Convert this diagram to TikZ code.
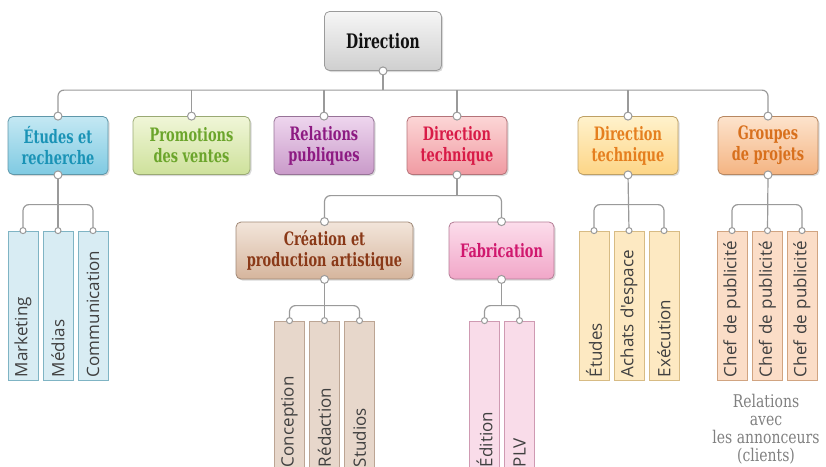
\documentclass[tikz,border=0pt]{standalone}
\usepackage{fontspec}
\usepackage{tikz}
\usetikzlibrary{positioning, shadows}

\newfontfamily\headfont[FakeStretch=0.7]{DejaVu Serif}
\newfontfamily\notefont[FakeStretch=0.8]{DejaVu Serif}
\newfontfamily\leaffont{Open Sans}
\hyphenpenalty=10000

\definecolor{linkgray}{HTML}{9A9A9A}
\definecolor{dirT}{HTML}{F6F6F6}\definecolor{dirB}{HTML}{CFCFCF}\definecolor{dirX}{HTML}{111111}\definecolor{dirL}{HTML}{EEEEEE}
\definecolor{etuT}{HTML}{C4E8F3}\definecolor{etuB}{HTML}{7FCAE2}\definecolor{etuX}{HTML}{1A93B6}\definecolor{etuL}{HTML}{D8ECF3}
\definecolor{proT}{HTML}{F0F6D8}\definecolor{proB}{HTML}{CEE19B}\definecolor{proX}{HTML}{6BA52B}\definecolor{proL}{HTML}{EEF5D8}
\definecolor{relT}{HTML}{EED6EE}\definecolor{relB}{HTML}{C99AC9}\definecolor{relX}{HTML}{8D1A82}\definecolor{relL}{HTML}{EED6EE}
\definecolor{dtrT}{HTML}{FCD6D6}\definecolor{dtrB}{HTML}{F09AA2}\definecolor{dtrX}{HTML}{D81B47}\definecolor{dtrL}{HTML}{FCE0E0}
\definecolor{dtyT}{HTML}{FFF2CC}\definecolor{dtyB}{HTML}{FDD586}\definecolor{dtyX}{HTML}{E57F1F}\definecolor{dtyL}{HTML}{FDE9C2}
\definecolor{grpT}{HTML}{FDE3CC}\definecolor{grpB}{HTML}{F4B482}\definecolor{grpX}{HTML}{D8701D}\definecolor{grpL}{HTML}{FBDDC7}
\definecolor{creT}{HTML}{F2E5DA}\definecolor{creB}{HTML}{D6B59D}\definecolor{creX}{HTML}{8A3918}\definecolor{creL}{HTML}{E7D7CB}
\definecolor{fabT}{HTML}{FCDDEB}\definecolor{fabB}{HTML}{F1A6C8}\definecolor{fabX}{HTML}{D0186E}\definecolor{fabL}{HTML}{F9DCE9}

\begin{document}
\begin{tikzpicture}[x=1pt, y=-1pt]

	\tikzset{
		box/.style={
				draw=#1B!75!black, top color=#1T, bottom color=#1B, text=#1X, rounded corners=5pt, line width=0.8pt,
				align=center, inner sep=2pt, minimum width=100pt, minimum height=58pt,
				font=\headfont\bfseries\fontsize{18.5}{21}\selectfont,
				drop shadow={opacity=0.3, shadow xshift=1.5pt, shadow yshift=-1.5pt}
			},
		leaf/.style={
				draw=#1B!70!gray, fill=#1L, line width=0.8pt, rotate=90, minimum width=149pt, minimum height=30pt,
				text width=143pt, inner xsep=3pt, inner ysep=0pt, align=left, text=black!75,
				font=\leaffont\fontsize{17}{20}\selectfont
			},
		dot/.style={
				circle, draw=linkgray, fill=white, line width=1pt, inner sep=0pt, minimum size=8pt
			},
		link/.style={
				draw=linkgray, line width=1.2pt, rounded corners=6pt
			},
	}

	\useasboundingbox (0,0) rectangle (826,466);
	\clip (0,0) rectangle (826,466);

	\node[box=dir, minimum width=117pt, minimum height=59pt, font=\headfont\bfseries\fontsize{20}{22}\selectfont] (d0) at (383,41) {Direction};

	\node[box=etu] (e1) at (58,145.5) {Études et\\recherche};
	\node[box=pro, minimum width=117pt] (e2) at (191.5,145.5) {Promotions\\des ventes};
	\node[box=rel] (e3) at (324,145.5) {Relations\\publiques};
	\node[box=dtr] (e4) at (457,145.5) {Direction\\technique};
	\node[box=dty] (e5) at (628,145.5) {Direction\\technique};
	\node[box=grp] (e6) at (768,145.5) {Groupes\\de projets};

	\node[box=cre, minimum width=177pt, minimum height=57pt] (f1) at (324.5,250.5) {Création et\\production artistique};
	\node[box=fab, minimum width=105pt, minimum height=57pt] (f2) at (501.5,250.5) {Fabrication};

	\node[leaf=etu] (m1) at (23,305.5) {Marketing};
	\node[leaf=etu] (m2) at (58,305.5) {Médias};
	\node[leaf=etu] (m3) at (93,305.5) {Communication};

	\node[leaf=cre] (c1) at (289.5,395.5) {Conception};
	\node[leaf=cre] (c2) at (324.5,395.5) {Rédaction};
	\node[leaf=cre] (c3) at (359.5,395.5) {Studios};

	\node[leaf=fab] (p1) at (484.5,395.5) {Édition};
	\node[leaf=fab] (p2) at (519.5,395.5) {PLV};

	\node[leaf=dty] (y1) at (594,305.5) {Études};
	\node[leaf=dty] (y2) at (629,305.5) {Achats d'espace};
	\node[leaf=dty] (y3) at (664,305.5) {Exécution};

	\node[leaf=grp] (g1) at (732,305.5) {Chef de publicité};
	\node[leaf=grp] (g2) at (767.5,305.5) {Chef de publicité};
	\node[leaf=grp] (g3) at (802,305.5) {Chef de publicité};

	\node[text=black!50, align=center, inner sep=0pt, font=\notefont\fontsize{17.5}{18}\selectfont] (t1) at (766,429) {Relations\\avec\\les annonceurs\\(clients)};

	\draw[link] (e1.north) -- ++(0,-26) -| (e6.north);
	\draw[link] (d0.south) -- ++(0,19);
	\draw[link] (e2.north) -- ++(0,-26);
	\draw[link] (e3.north) -- ++(0,-26);
	\draw[link] (e4.north) -- ++(0,-26);
	\draw[link] (e5.north) -- ++(0,-26);

	\draw[link] (e1.south) -- (m2.east);
	\draw[link] (m1.east) -- ++(0,-26) -| (m3.east);

	\draw[link] (e4.south) -- ++(0,21);
	\draw[link] (f1.north) -- ++(0,-26) -| (f2.north);

	\draw[link] (f1.south) -- (c2.east);
	\draw[link] (c1.east) -- ++(0,-15) -| (c3.east);

	\draw[link] (f2.south) -- ++(0,27);
	\draw[link] (p1.east) -- ++(0,-15) -| (p2.east);

	\draw[link] (e5.south) -- (y2.east);
	\draw[link] (y1.east) -- ++(0,-26) -| (y3.east);

	\draw[link] (e6.south) -- (g2.east);
	\draw[link] (g1.east) -- ++(0,-26) -| (g3.east);

	\node[dot] at (d0.south) {};
	\node[dot] at (e1.north) {};
	\node[dot] at (e1.south) {};
	\node[dot] at (e2.north) {};
	\node[dot] at (e3.north) {};
	\node[dot] at (e4.north) {};
	\node[dot] at (e4.south) {};
	\node[dot] at (e5.north) {};
	\node[dot] at (e5.south) {};
	\node[dot] at (e6.north) {};
	\node[dot] at (e6.south) {};
	\node[dot] at (f1.north) {};
	\node[dot] at (f1.south) {};
	\node[dot] at (f2.north) {};
	\node[dot] at (f2.south) {};

	\node[dot, minimum size=6pt] at (m1.east) {};
	\node[dot, minimum size=6pt] at (m2.east) {};
	\node[dot, minimum size=6pt] at (m3.east) {};
	\node[dot, minimum size=6pt] at (c1.east) {};
	\node[dot, minimum size=6pt] at (c2.east) {};
	\node[dot, minimum size=6pt] at (c3.east) {};
	\node[dot, minimum size=6pt] at (p1.east) {};
	\node[dot, minimum size=6pt] at (p2.east) {};
	\node[dot, minimum size=6pt] at (y1.east) {};
	\node[dot, minimum size=6pt] at (y2.east) {};
	\node[dot, minimum size=6pt] at (y3.east) {};
	\node[dot, minimum size=6pt] at (g1.east) {};
	\node[dot, minimum size=6pt] at (g2.east) {};
	\node[dot, minimum size=6pt] at (g3.east) {};

\end{tikzpicture}
\end{document}
